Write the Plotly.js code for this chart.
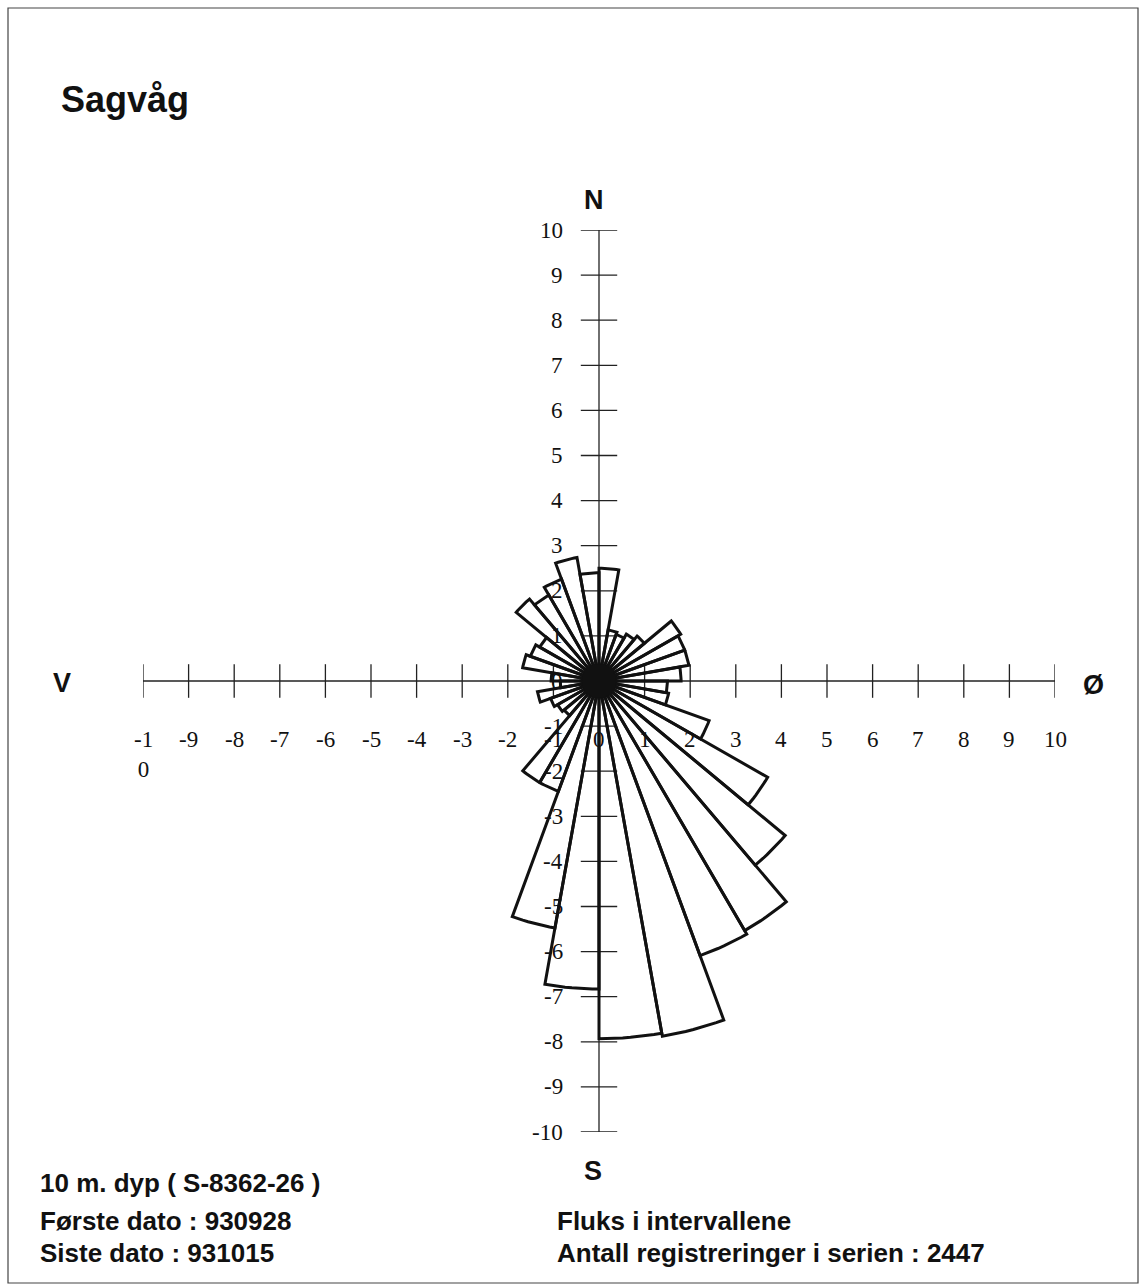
<!DOCTYPE html>
<html>
<head>
<meta charset="utf-8">
<script src="https://cdn.plot.ly/plotly-3.0.1.min.js"></script>
<style>html,body{margin:0;padding:0;background:#fff;}#chart{width:1141px;height:1285px;}</style>
</head>
<body>
<div id="chart"></div>
<script>
// ---- data ----
const sectorStart = [0,10,20,30,40,50,60,70,80,90,100,110,120,130,140,150,160,170,
                     180,190,200,210,220,230,240,250,260,270,280,290,300,310,320,330,340,350];
const sectorWidth = 10;
const flux = [2.5,1.15,1.1,1.2,1.3,2.07,2.0,2.0,1.8,1.5,1.55,2.57,4.27,5.33,6.39,6.48,8.0,7.93,
              6.83,5.56,2.6,2.6,1.0,1.05,1.13,1.37,0.85,1.05,1.7,1.6,1.5,2.37,2.2,2.4,2.78,2.4];
const xTicks = [-10,-9,-8,-7,-6,-5,-4,-3,-2,-1,0,1,2,3,4,5,6,7,8,9,10];
const xTickLabels = ["-1<br>0","-9","-8","-7","-6","-5","-4","-3","-2","-1","0","1","2","3","4","5","6","7","8","9","10"];
const yTicks = [10,9,8,7,6,5,4,3,2,1,0,-1,-2,-3,-4,-5,-6,-7,-8,-9,-10];
const yTickLabels = ["10","9","8","7","6","5","4","3","2","1","0","-1","-2","-3","-4","-5","-6","-7","-8","-9","-10"];
const compass = ["N","Ø","S","V"];
const titleText = "Sagvåg";
const infoLeft = ["10 m. dyp ( S-8362-26 )","Første dato : 930928","Siste dato : 931015"];
const infoRight = ["Fluks i intervallene","Antall registreringer i serien : 2447"];

// ---- build sector outlines ----
const sx = [], sy = [];
const arcSteps = 8;
for (let i = 0; i < sectorStart.length; i++) {
  const r = flux[i];
  const a0 = sectorStart[i] * Math.PI / 180;
  const a1 = (sectorStart[i] + sectorWidth) * Math.PI / 180;
  sx.push(0); sy.push(0);
  for (let k = 0; k <= arcSteps; k++) {
    const a = a0 + (a1 - a0) * k / arcSteps;
    sx.push(r * Math.sin(a)); sy.push(r * Math.cos(a));
  }
  sx.push(0); sy.push(0);
  sx.push(null); sy.push(null);
}

const lineCol = '#111';
const traces = [
  {type:'scatter', mode:'lines', x:[xTicks[0], xTicks[xTicks.length-1]], y:[0,0],
   line:{color:'#222', width:1.3}, hoverinfo:'skip', showlegend:false},
  {type:'scatter', mode:'lines', x:[0,0], y:[yTicks[yTicks.length-1], yTicks[0]],
   line:{color:'#222', width:1.3}, hoverinfo:'skip', showlegend:false},
  {type:'scatter', mode:'markers', x:xTicks, y:xTicks.map(()=>0),
   marker:{symbol:'line-ns', size:24, color:'#222', line:{color:'#222', width:1.3}},
   hoverinfo:'skip', showlegend:false},
  {type:'scatter', mode:'markers', x:yTicks.map(()=>0), y:yTicks,
   marker:{symbol:'line-ew', size:26, color:'#222', line:{color:'#222', width:1.3}},
   hoverinfo:'skip', showlegend:false},
  {type:'scatter', mode:'lines', x:sx, y:sy, connectgaps:false,
   line:{color:lineCol, width:3}, fill:'none', hoverinfo:'skip', showlegend:false},
  // dense hub where all sector edges converge at the pole
  {type:'scatter', mode:'markers', x:[xTicks[10]], y:[yTicks[10]],
   marker:{symbol:'circle', size:34, color:lineCol, line:{width:0}},
   hoverinfo:'skip', showlegend:false}
];

const serif = {family:'"Liberation Serif", "DejaVu Serif", serif', size:23, color:'#111'};
const sansB = (s) => ({family:'"Liberation Sans", Arial, sans-serif', size:s, color:'#111', weight:'bold'});

const annotations = [];
xTicks.forEach((t, i) => {
  annotations.push({x:t, y:0, xref:'x', yref:'y', text:xTickLabels[i], showarrow:false,
    xanchor:'center', yanchor:'top', yshift:-44, font:serif, align:'center'});
});
yTicks.forEach((t, i) => {
  annotations.push({x:0, y:t, xref:'x', yref:'y', text:yTickLabels[i], showarrow:false,
    xanchor:'right', yanchor:'middle', xshift:-34, font:serif});
});
// compass letters
annotations.push({x:0, y:yTicks[0], xref:'x', yref:'y', text:'<b>'+compass[0]+'</b>', showarrow:false,
  xanchor:'center', yanchor:'bottom', xshift:-5, yshift:13, font:sansB(27)});
annotations.push({x:0, y:yTicks[yTicks.length-1], xref:'x', yref:'y', text:'<b>'+compass[2]+'</b>', showarrow:false,
  xanchor:'center', yanchor:'top', xshift:-6, yshift:-22, font:sansB(27)});
annotations.push({x:xTicks[xTicks.length-1], y:0, xref:'x', yref:'y', text:'<b>'+compass[1]+'</b>', showarrow:false,
  xanchor:'center', yanchor:'middle', xshift:38, yshift:-4, font:sansB(27)});
annotations.push({x:xTicks[0], y:0, xref:'x', yref:'y', text:'<b>'+compass[3]+'</b>', showarrow:false,
  xanchor:'center', yanchor:'middle', xshift:-81, yshift:-2, font:sansB(27)});
// title
annotations.push({x:59/1141, y:1-100/1285, xref:'paper', yref:'paper', text:'<b>'+titleText+'</b>',
  showarrow:false, xanchor:'left', yanchor:'middle', font:sansB(36)});
// info texts
const leftY = [1183, 1221, 1253];
infoLeft.forEach((t, i) => annotations.push({x:38/1141, y:1-leftY[i]/1285, xref:'paper', yref:'paper',
  text:'<b>'+t+'</b>', showarrow:false, xanchor:'left', yanchor:'middle', font:sansB(26)}));
const rightY = [1221, 1253];
infoRight.forEach((t, i) => annotations.push({x:555/1141, y:1-rightY[i]/1285, xref:'paper', yref:'paper',
  text:'<b>'+t+'</b>', showarrow:false, xanchor:'left', yanchor:'middle', font:sansB(26)}));

const layout = {
  width:1141, height:1285,
  margin:{l:0, r:0, t:0, b:0, pad:0},
  paper_bgcolor:'#fff', plot_bgcolor:'#fff',
  showlegend:false,
  xaxis:{domain:[143/1141, 1055/1141], range:[-10,10], visible:false, fixedrange:true},
  yaxis:{domain:[1-1132/1285, 1-230/1285], range:[-10,10], visible:false, fixedrange:true},
  annotations:annotations,
  shapes:[{type:'rect', xref:'paper', yref:'paper', x0:8/1141, x1:1138/1141, y0:1-1283/1285, y1:1-8/1285,
    line:{color:'#444', width:1.2}, fillcolor:'rgba(0,0,0,0)'}]
};

Plotly.newPlot('chart', traces, layout, {staticPlot:true, displayModeBar:false});
</script>
</body>
</html>
